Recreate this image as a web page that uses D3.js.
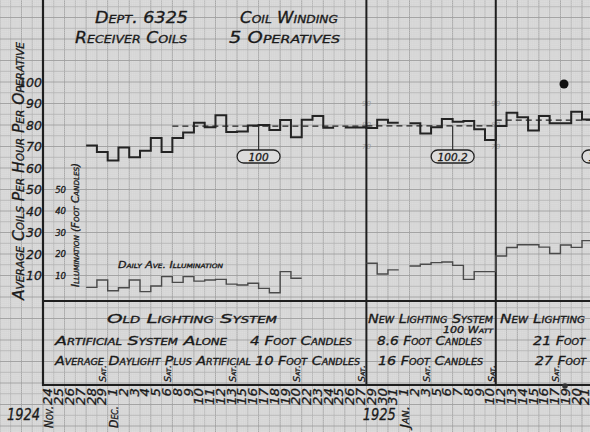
<!DOCTYPE html>
<html>
<head>
<meta charset="utf-8">
<script src="https://cdn.jsdelivr.net/npm/d3@7"></script>
<style>
body { margin: 0; background: #dcdcdc; }
svg { display: block; }
text { font-family: "DejaVu Sans", sans-serif; font-style: italic; fill: #1a1a1a; stroke: #1a1a1a; stroke-width: 0.3px; }
</style>
</head>
<body>
<script>
// Working days on the sheet (Sundays left out, holidays kept as blank columns)
let dates = [
  "1924-11-24","1924-11-25","1924-11-26","1924-11-27","1924-11-28","1924-11-29",
  "1924-12-01","1924-12-02","1924-12-03","1924-12-04","1924-12-05","1924-12-06",
  "1924-12-08","1924-12-09","1924-12-10","1924-12-11","1924-12-12","1924-12-13",
  "1924-12-15","1924-12-16","1924-12-17","1924-12-18","1924-12-19","1924-12-20",
  "1924-12-22","1924-12-23","1924-12-24","1924-12-25","1924-12-26","1924-12-27",
  "1924-12-29","1924-12-30","1924-12-31","1925-01-01","1925-01-02","1925-01-03",
  "1925-01-05","1925-01-06","1925-01-07","1925-01-08","1925-01-09","1925-01-10",
  "1925-01-12","1925-01-13","1925-01-14","1925-01-15","1925-01-16","1925-01-17",
  "1925-01-19","1925-01-20","1925-01-21"];

// Average coils per hour per operative
let output = [
  null, null, null, null, 70.5, 67.5,
  63.5, 69.5, 65, 68, 74, 67.5,
  74, 76.5, 81, 79, 84.5, 76.7,
  77, 79.8, 80, 77.7, 82.3, 74.3,
  82.5, 84.2, 78.7, null, 78.8, 78.8,
  78.6, 82.5, 81, null, 80.8, 76,
  79, 82.8, 81.5, 81.9, 78, 73,
  79.5, 85.7, 83.6, 77.5, 84.2, 80.8,
  80.8, 86.2, 82.6];

// Daily average illumination (foot candles)
let illumination = [
  null, null, null, null, 4.5, 7.9,
  2.9, 4.3, 7.9, 2.5, 5.1, 9.5,
  6.8, 9.5, 7.4, 7.9, 8.2, 6.0,
  5.6, 6.4, 4.0, 2.0, 11.8, 8.7,
  null, null, null, null, null, null,
  15.7, 10.7, 12.6, null, 14.4, 15.2,
  16.0, 16.3, 14.7, 8.2, 11.8, 11.8,
  19.1, 23.0, 24.3, 24.3, 23.2, 20.2,
  24.2, 23.1, 26.2];

// Period averages (dashed lines) and their index labels
let avgFrom = ["1924-12-08", "1924-12-29", "1925-01-12"];
let avgTo = ["1924-12-27", "1925-01-10", "1925-01-21"];
let avgValue = [79.5, 79.6, 82.3];
let avgLabel = ["100", "100.2", "103.5"];
let avgLabelDay = [20, 38, 52];

let yTicks = [10, 20, 30, 40, 50, 60, 70, 80, 90, 100];
let illumTicks = [10, 20, 30, 40, 50];

let width = 590, height = 432;
let parseDate = d3.timeParse("%Y-%m-%d");
let days = dates.map(parseDate);

// Set the ranges
let x = d3.scaleLinear().domain([0, dates.length]).range([43, 43 + 51 * 10.78]);
let y = d3.scaleLinear().domain([0, 100]).range([297, 82]);

let svg = d3.select("body").append("svg")
    .attr("width", width)
    .attr("height", height);

svg.append("rect").attr("width", width).attr("height", height).attr("fill", "#dcdcdc");

// graph paper
let dx = x(1) - x(0), dy = y(0) - y(1);
let grid = svg.append("g");
function gridColour(k) { return k % 10 == 0 ? "#a4a4a4" : k % 5 == 0 ? "#b8b8b8" : "#d3d3d3"; }
for (let k = -30; k * dx / 5 + x(0) < width; k++) {
  let gx = x(0) + k * dx / 5;
  grid.append("line").attr("x1", gx).attr("x2", gx).attr("y1", 0).attr("y2", height)
    .attr("stroke", gridColour(k)).attr("stroke-width", k % 5 == 0 ? 1 : 0.5);
}
for (let k = -70; y(0) - k * dy > 0; k++) {
  if (y(0) - k * dy > height) continue;
  let gy = y(0) - k * dy;
  grid.append("line").attr("y1", gy).attr("y2", gy).attr("x1", 0).attr("x2", width)
    .attr("stroke", gridColour(k)).attr("stroke-width", k % 5 == 0 ? 1 : 0.5);
}

// faint pencil marks beside the change-over lines
[30, 42].forEach(function(i) {
  [90, 80, 70].forEach(function(v) {
    svg.append("text").attr("x", x(i)).attr("y", y(v)).attr("dy", "0.35em")
      .attr("text-anchor", "middle").style("font-size", "7px")
      .style("fill", "#9a9a9a").style("stroke", "none")
      .text(v);
  });
});

// frame lines
let ink = "#1e1e1e";
svg.append("line").attr("x1", x(0)).attr("x2", x(0)).attr("y1", 0).attr("y2", 386)
  .attr("stroke", ink).attr("stroke-width", 2.2);
[30, 42].forEach(function(i) {
  svg.append("line").attr("x1", x(i)).attr("x2", x(i)).attr("y1", 0).attr("y2", 386)
    .attr("stroke", ink).attr("stroke-width", 2);
});
[301, 385].forEach(function(h) {
  svg.append("line").attr("x1", x(0)).attr("x2", width).attr("y1", h).attr("y2", h)
    .attr("stroke", ink).attr("stroke-width", 2);
});

// step lines: each day covers its own column
function steps(values) {
  let pts = [];
  values.forEach(function(v, i) {
    if (v == null) { pts.push(null); return; }
    pts.push([i, v], [i + 1, v]);
  });
  return pts;
}
let stepLine = d3.line()
    .defined(function(d) { return d != null; })
    .x(function(d) { return x(d[0]); })
    .y(function(d) { return y(d[1]); });

svg.append("path").attr("d", stepLine(steps(illumination)))
  .attr("fill", "none").attr("stroke", "#4a4a4a").attr("stroke-width", 1.4);

svg.append("path").attr("d", stepLine(steps(output)))
  .attr("fill", "none").attr("stroke", "#232323").attr("stroke-width", 2);

// period averages
avgValue.forEach(function(v, k) {
  let i0 = dates.indexOf(avgFrom[k]), i1 = dates.indexOf(avgTo[k]) + 1;
  svg.append("line").attr("x1", x(i0)).attr("x2", k == 2 ? width : x(i1))
    .attr("y1", y(v)).attr("y2", y(v))
    .attr("stroke", "#222").attr("stroke-width", 1.3).attr("stroke-dasharray", "6,4");
  let cx = x(avgLabelDay[k]);
  svg.append("line").attr("x1", cx).attr("x2", cx).attr("y1", y(v)).attr("y2", 150)
    .attr("stroke", "#333").attr("stroke-width", 1.2);
  svg.append("rect").attr("x", cx - 21.5).attr("y", 150).attr("width", 43).attr("height", 13)
    .attr("rx", 6.5).attr("fill", "#dcdcdc").attr("stroke", "#222").attr("stroke-width", 1.3);
  svg.append("text").attr("x", cx).attr("y", 160.5).attr("text-anchor", "middle")
    .style("font-size", "10.5px").text(avgLabel[k]);
});

// axes
let yAxis = svg.append("g").attr("transform", "translate(43,0)")
    .call(d3.axisLeft(y).tickValues(yTicks).tickSize(0).tickPadding(1));
yAxis.select(".domain").remove();
yAxis.selectAll("text").attr("dy", "0.35em")
  .style("font-size", "12.5px").style("font-family", "DejaVu Sans")
  .style("fill", "#1a1a1a").style("stroke", "#1a1a1a");

let iAxis = svg.append("g").attr("transform", "translate(66,0)")
    .call(d3.axisLeft(y).tickValues(illumTicks).tickSize(0).tickPadding(0));
iAxis.select(".domain").remove();
iAxis.selectAll("text").attr("dy", "0.35em")
  .style("font-size", "8.5px").style("font-family", "DejaVu Sans")
  .style("fill", "#1a1a1a").style("stroke", "#1a1a1a");

// small caps lettering helper
function letter(txt, px, py, size, len, anchor) {
  let t = svg.append("text").attr("x", px).attr("y", py)
    .style("font-size", size + "px").style("font-variant", "small-caps")
    .attr("text-anchor", anchor || "start").text(txt);
  if (len) t.attr("textLength", len).attr("lengthAdjust", "spacingAndGlyphs");
  return t;
}

letter("Dept. 6325", 95, 23, 15, 93);
letter("Coil Winding", 240, 23, 15, 98);
letter("Receiver Coils", 75, 43, 15, 112);
letter("5 Operatives", 229, 43, 15, 111);

svg.append("text").attr("transform", "translate(24,171) rotate(-90)")
  .attr("text-anchor", "middle").style("font-size", "16px").style("font-variant", "small-caps")
  .attr("textLength", 258).attr("lengthAdjust", "spacingAndGlyphs")
  .text("Average Coils Per Hour Per Operative");
svg.append("text").attr("transform", "translate(79,225) rotate(-90)")
  .attr("text-anchor", "middle").style("font-size", "10px").style("font-variant", "small-caps")
  .attr("textLength", 124).attr("lengthAdjust", "spacingAndGlyphs")
  .text("Illumination (Foot Candles)");

letter("Daily Ave. Illumination", 118, 268, 9, 105);

// lighting periods
letter("Old Lighting System", 107, 323, 12, 170);
letter("Artificial System Alone", 55, 345, 12, 172);
letter("4 Foot Candles", 250, 345, 12, 102);
letter("Average Daylight Plus Artificial 10 Foot Candles", 55, 365, 12, 305);
letter("New Lighting System", 368, 323, 12, 125);
letter("100 Watt", 443, 333, 8.5, 50);
letter("8.6 Foot Candles", 377, 345, 12, 105);
letter("16 Foot Candles", 378, 365, 12, 105);
letter("New Lighting", 500, 323, 12, 85);
letter("21 Foot", 533, 345, 12, 52);
letter("27 Foot", 535, 365, 12, 51);

// day labels along the bottom
let monthFmt = d3.timeFormat("%b.");
days.forEach(function(d, i) {
  let cx = Math.min(x(i + 0.5), 585);
  svg.append("text").attr("transform", "translate(" + cx + ",388) rotate(-90)")
    .attr("text-anchor", "end").attr("dy", "0.35em")
    .style("font-size", "11.5px").attr("textLength", String(d.getDate()).length * 8.5)
    .attr("lengthAdjust", "spacingAndGlyphs")
    .text(d.getDate());
  if (d.getDay() == 6) {
    svg.append("text").attr("transform", "translate(" + (cx + 1) + ",382) rotate(-90)")
      .attr("dy", "0.35em").style("font-size", "9px").style("font-variant", "small-caps")
      .attr("textLength", 17).attr("lengthAdjust", "spacingAndGlyphs")
      .text("Sat.");
  }
  let prev = i > 0 ? days[i - 1] : null;
  if (!prev || prev.getMonth() != d.getMonth()) {
    svg.append("text").attr("transform", "translate(" + (cx + 1) + ",428) rotate(-90)")
      .attr("dy", "0.35em").style("font-size", "11.5px").style("font-variant", "small-caps")
      .attr("textLength", 22).attr("lengthAdjust", "spacingAndGlyphs")
      .text(monthFmt(d));
  }
  if (!prev || prev.getFullYear() != d.getFullYear()) {
    svg.append("text").attr("x", x(i) - 3).attr("y", 420).attr("text-anchor", "end")
      .style("font-size", "15px").attr("textLength", 33).attr("lengthAdjust", "spacingAndGlyphs")
      .text(d.getFullYear());
  }
});

// ink blots on the sheet
svg.append("circle").attr("cx", 564).attr("cy", 84).attr("r", 4.5).attr("fill", "#111");
svg.append("circle").attr("cx", 565).attr("cy", 386).attr("r", 2.8).attr("fill", "#333");
</script>
</body>
</html>
